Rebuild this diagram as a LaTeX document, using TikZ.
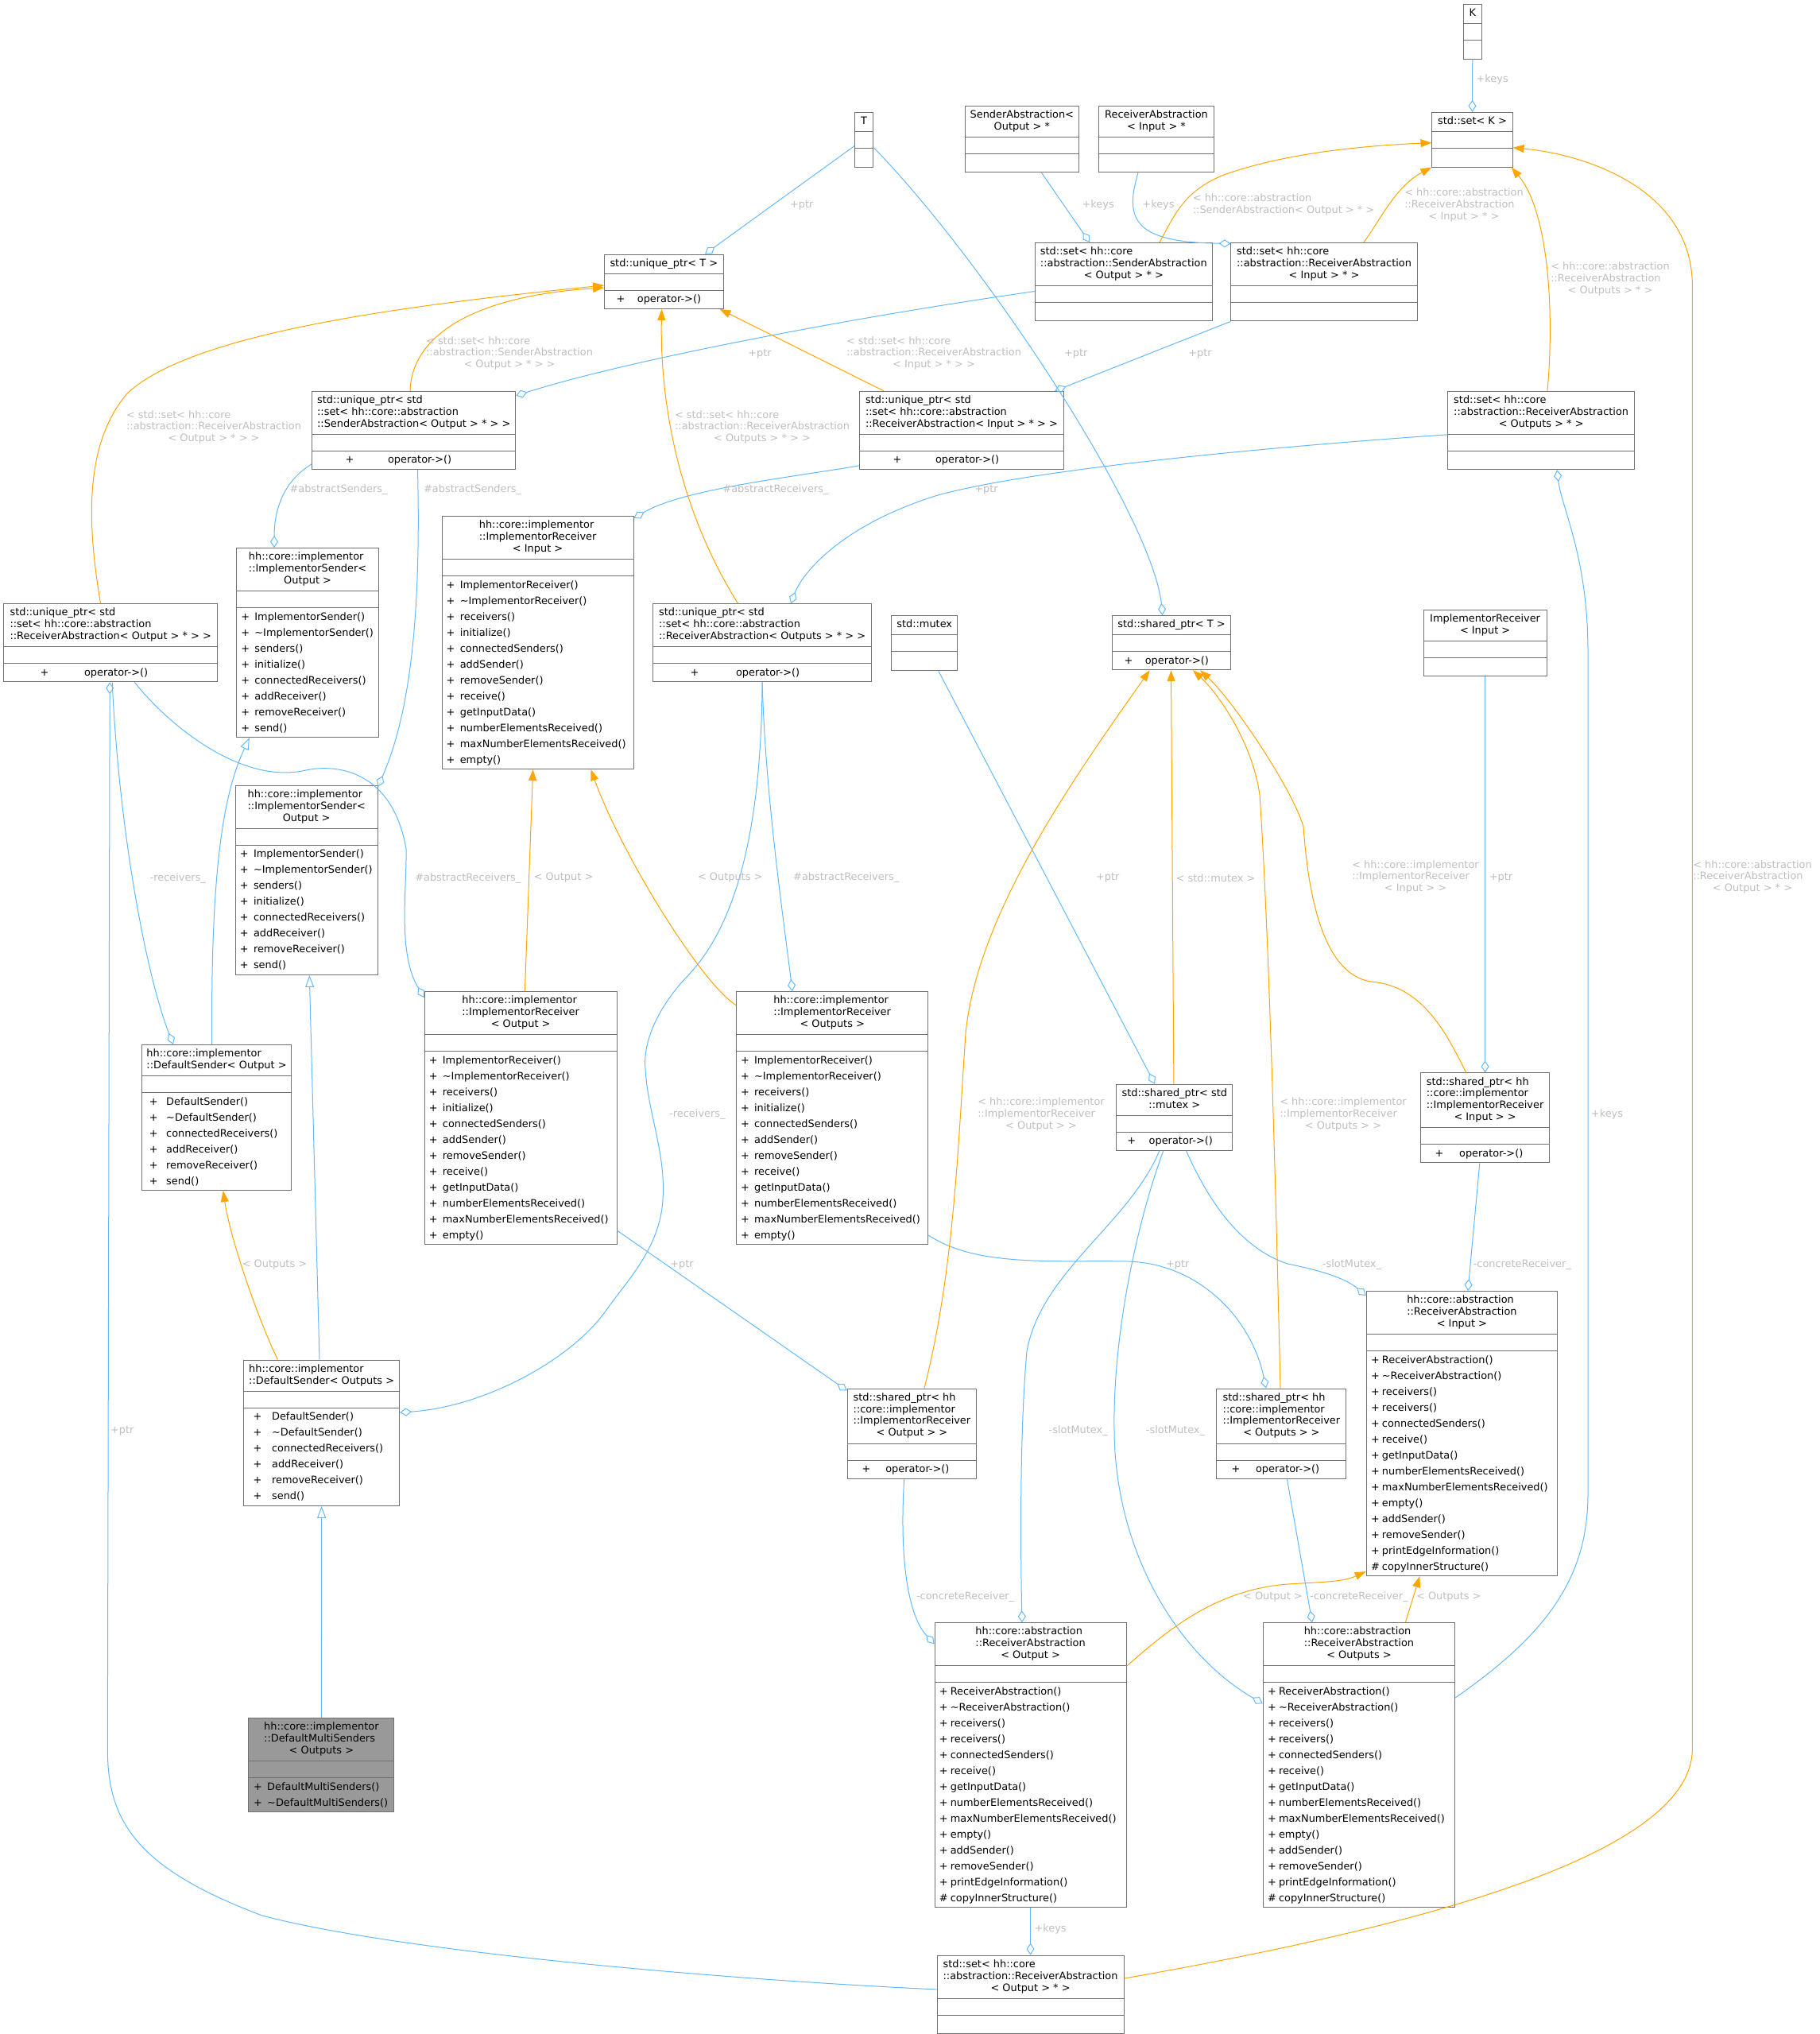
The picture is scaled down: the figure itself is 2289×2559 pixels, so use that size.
\documentclass[tikz,border=0pt]{standalone}
\usepackage{fontspec}
\setmainfont{DejaVu Sans}
\usepackage{tikz}
\usetikzlibrary{arrows.meta,shapes.multipart,calc}
\definecolor{edgeblue}{HTML}{63B8FF}
\definecolor{tmplorange}{HTML}{FFA500}
\definecolor{boxline}{HTML}{707070}
\definecolor{lblgrey}{HTML}{BEBEBE}
\definecolor{shadegray}{HTML}{999999}

% text blocks: lines left, last line centred
\newcommand\lns[2]{\begin{tabular}{@{}l@{}}#1\multicolumn{1}{@{}c@{}}{#2}\end{tabular}}
\newcommand\ttl[2]{\vbox{\kern3.2pt\hbox{\lns{#1}{#2}}\kern3.2pt}}
\newcommand\mth[3][1.5pt]{\hbox{\fontsize{12.9}{20}\selectfont\begin{tabular}{@{\hspace{#1}}l@{\hspace{#2}}l@{}}#3\end{tabular}}}
\newcommand\blankpart{\rule{0pt}{18pt}}
\newcommand\nomethods{\rule{0pt}{20.4pt}}

% member lists
\newcommand\isendrows{+&ImplementorSender()\\+&\textasciitilde ImplementorSender()\\+&senders()\\+&initialize()\\+&connectedReceivers()\\+&addReceiver()\\+&removeReceiver()\\+&send()}
\newcommand\irecvrows{+&ImplementorReceiver()\\+&\textasciitilde ImplementorReceiver()\\+&receivers()\\+&initialize()\\+&connectedSenders()\\+&addSender()\\+&removeSender()\\+&receive()\\+&getInputData()\\+&numberElementsReceived()\\+&maxNumberElementsReceived()\\+&empty()}
\newcommand\absrows{+&ReceiverAbstraction()\\+&\textasciitilde ReceiverAbstraction()\\+&receivers()\\+&receivers()\\+&connectedSenders()\\+&receive()\\+&getInputData()\\+&numberElementsReceived()\\+&maxNumberElementsReceived()\\+&empty()\\+&addSender()\\+&removeSender()\\+&printEdgeInformation()\\\#&copyInnerStructure()}
\newcommand\dsendrows{+&DefaultSender()\\+&\textasciitilde DefaultSender()\\+&connectedReceivers()\\+&addReceiver()\\+&removeReceiver()\\+&send()}

\begin{document}
\begin{tikzpicture}[x=1pt, y=-1pt,
    cls/.style={rectangle split, rectangle split parts=3, rectangle split part align={center,left,left},
      draw=boxline, line width=1pt, fill=white, inner xsep=4pt, inner ysep=1pt, anchor=north,
      font=\fontsize{12.9}{14.9}\selectfont},
    lbl/.style={text=lblgrey, inner sep=0pt, font=\fontsize{12.9}{14.8}\selectfont},
    agg/.style={draw=edgeblue, line width=1pt, -{Diamond[open,length=15pt,width=10pt]}},
    tmpl/.style={draw=tmplorange, line width=1pt, -{Triangle[length=14pt,width=10pt]}},
    inh/.style={draw=edgeblue, line width=1pt, -{Triangle[open,length=15pt,width=11pt]}}
]
    \useasboundingbox (0,0) rectangle (2289,2559);

    % Classes, top area
    \node[cls, minimum width=22.9] (K) at (1852.75,4.9) {\ttl{}{K}\nodepart{two}\blankpart\nodepart{three}\nomethods};
    \node[cls, minimum width=101.2] (setK) at (1852.5,140.8) {\ttl{}{std::set< K >}\nodepart{two}\blankpart\nodepart{three}\nomethods};
    \node[cls, minimum width=23.4] (T) at (1087.1,140.8) {\ttl{}{T}\nodepart{two}\blankpart\nodepart{three}\nomethods};
    \node[cls, minimum width=143.5] (sendAbsP) at (1285.85,132.7) {\ttl{SenderAbstraction<\\}{Output > *}\nodepart{two}\blankpart\nodepart{three}\nomethods};
    \node[cls, minimum width=145] (recvAbsInP) at (1455,132.7) {\ttl{ReceiverAbstraction\\}{< Input > *}\nodepart{two}\blankpart\nodepart{three}\nomethods};
    \node[cls, minimum width=149.4] (uptrT) at (835.3,319.6) {\ttl{}{std::unique\_ptr< T >}\nodepart{two}\blankpart\nodepart{three}\mth[11pt]{15.5pt}{+&operator->()}};
    \node[cls, minimum width=222.3] (setSendOut) at (1413.85,304.9) {\ttl{std::set< hh::core\\::abstraction::SenderAbstraction\\}{< Output > * >}\nodepart{two}\blankpart\nodepart{three}\nomethods};
    \node[cls, minimum width=234.1] (setRecvIn) at (1666,304.9) {\ttl{std::set< hh::core\\::abstraction::ReceiverAbstraction\\}{< Input > * >}\nodepart{two}\blankpart\nodepart{three}\nomethods};
    \node[cls, minimum width=256] (sendUP) at (520.7,491.8) {\ttl{std::unique\_ptr< std\\::set< hh::core::abstraction\\}{::SenderAbstraction< Output > * > >}\nodepart{two}\blankpart\nodepart{three}\mth[37.9pt]{42.6pt}{+&operator->()}};
    \node[cls, minimum width=257.5] (recvInUP) at (1209.95,491.8) {\ttl{std::unique\_ptr< std\\::set< hh::core::abstraction\\}{::ReceiverAbstraction< Input > * > >}\nodepart{two}\blankpart\nodepart{three}\mth[38.4pt]{42.6pt}{+&operator->()}};
    \node[cls, minimum width=234.5] (setRecvOuts) at (1939.15,491.8) {\ttl{std::set< hh::core\\::abstraction::ReceiverAbstraction\\}{< Outputs > * >}\nodepart{two}\blankpart\nodepart{three}\nomethods};

    % Classes, middle area
    \node[cls, minimum width=268.6] (recvOutUP) at (139.2,759.2) {\ttl{std::unique\_ptr< std\\::set< hh::core::abstraction\\}{::ReceiverAbstraction< Output > * > >}\nodepart{two}\blankpart\nodepart{three}\mth[41.7pt]{44.6pt}{+&operator->()}};
    \node[cls, minimum width=178.6] (implSendA) at (387.1,689) {\ttl{hh::core::implementor\\::ImplementorSender<\\}{Output >}\nodepart{two}\blankpart\nodepart{three}\mth{6.3pt}{\isendrows}};
    \node[cls, minimum width=240.8] (implRecvIn) at (676.6,649) {\ttl{hh::core::implementor\\::ImplementorReceiver\\}{< Input >}\nodepart{two}\blankpart\nodepart{three}\mth{6.3pt}{\irecvrows}};
    \node[cls, minimum width=178.6] (implSendB) at (385.7,987.8) {\ttl{hh::core::implementor\\::ImplementorSender<\\}{Output >}\nodepart{two}\blankpart\nodepart{three}\mth{6.3pt}{\isendrows}};
    \node[cls, minimum width=241.7] (implRecvOut) at (655.15,1247) {\ttl{hh::core::implementor\\::ImplementorReceiver\\}{< Output >}\nodepart{two}\blankpart\nodepart{three}\mth{6.3pt}{\irecvrows}};
    \node[cls, minimum width=275.4] (recvOutsUP) at (959.1,759.2) {\ttl{std::unique\_ptr< std\\::set< hh::core::abstraction\\}{::ReceiverAbstraction< Outputs > * > >}\nodepart{two}\blankpart\nodepart{three}\mth[43.2pt]{46.6pt}{+&operator->()}};
    \node[cls, minimum width=83.2] (mutex) at (1163.2,773.9) {\ttl{}{std::mutex}\nodepart{two}\blankpart\nodepart{three}\nomethods};
    \node[cls, minimum width=148.9] (sptrT) at (1473.95,773.9) {\ttl{}{std::shared\_ptr< T >}\nodepart{two}\blankpart\nodepart{three}\mth[11.1pt]{15.4pt}{+&operator->()}};
    \node[cls, minimum width=241.4] (implRecvOuts) at (1047.2,1247) {\ttl{hh::core::implementor\\::ImplementorReceiver\\}{< Outputs >}\nodepart{two}\blankpart\nodepart{three}\mth{6.3pt}{\irecvrows}};
    \node[cls, minimum width=154.8] (implRecv) at (1868.6,766.5) {\ttl{ImplementorReceiver\\}{< Input >}\nodepart{two}\blankpart\nodepart{three}\nomethods};

    % Classes, lower area
    \node[cls, minimum width=188.8] (defSendOut) at (272.5,1313.9) {\ttl{hh::core::implementor\\}{::DefaultSender< Output >}\nodepart{two}\blankpart\nodepart{three}\mth[5.7pt]{10.6pt}{\dsendrows}};
    \node[cls, minimum width=196.1] (defSendOuts) at (404.65,1710.6) {\ttl{hh::core::implementor\\}{::DefaultSender< Outputs >}\nodepart{two}\blankpart\nodepart{three}\mth[8.1pt]{12.6pt}{\dsendrows}};
    \node[cls, minimum width=162.5] (sptrRecvOut) at (1147.45,1746.5) {\ttl{std::shared\_ptr< hh\\::core::implementor\\::ImplementorReceiver\\}{< Output > >}\nodepart{two}\blankpart\nodepart{three}\mth[14.4pt]{18.9pt}{+&operator->()}};
    \node[cls, minimum width=146] (sptrMutex) at (1477.8,1363.7) {\ttl{std::shared\_ptr< std\\}{::mutex >}\nodepart{two}\blankpart\nodepart{three}\mth[9.6pt]{16.5pt}{+&operator->()}};
    \node[cls, minimum width=162.5] (sptrRecvIn) at (1868.55,1349.4) {\ttl{std::shared\_ptr< hh\\::core::implementor\\::ImplementorReceiver\\}{< Input > >}\nodepart{two}\blankpart\nodepart{three}\mth[14.3pt]{19.7pt}{+&operator->()}};
    \node[cls, minimum width=240.4] (recvAbsIn) at (1839.4,1624) {\ttl{hh::core::abstraction\\::ReceiverAbstraction\\}{< Input >}\nodepart{two}\blankpart\nodepart{three}\mth[1.8pt]{3.1pt}{\absrows}};
    \node[cls, minimum width=163] (sptrRecvOuts) at (1612.4,1746.5) {\ttl{std::shared\_ptr< hh\\::core::implementor\\::ImplementorReceiver\\}{< Outputs > >}\nodepart{two}\blankpart\nodepart{three}\mth[14.7pt]{19.6pt}{+&operator->()}};
    \node[cls, minimum width=183, fill=shadegray] (multi) at (404.4,2161.2) {\ttl{hh::core::implementor\\::DefaultMultiSenders\\}{< Outputs >}\nodepart{two}\blankpart\nodepart{three}\mth[2.3pt]{6.2pt}{+&DefaultMultiSenders()\\+&\textasciitilde DefaultMultiSenders()}};
    \node[cls, minimum width=240.9] (recvAbsOut) at (1296.55,2041.2) {\ttl{hh::core::abstraction\\::ReceiverAbstraction\\}{< Output >}\nodepart{two}\blankpart\nodepart{three}\mth[1.8pt]{3.1pt}{\absrows}};
    \node[cls, minimum width=235.1] (setRecvOut) at (1296.55,2459.6) {\ttl{std::set< hh::core\\::abstraction::ReceiverAbstraction\\}{< Output > * >}\nodepart{two}\blankpart\nodepart{three}\nomethods};
    \node[cls, minimum width=241.3] (recvAbsOuts) at (1709.95,2041.2) {\ttl{hh::core::abstraction\\::ReceiverAbstraction\\}{< Outputs >}\nodepart{two}\blankpart\nodepart{three}\mth[1.8pt]{3.1pt}{\absrows}};

    % Member links
    \draw[agg] (K.south) -- (setK.north) node[lbl] (keysK) at (1877.7,100.4) {+keys};
    \draw[agg] ($(T.north west)+(0,42.9)$) -- ($(uptrT.north)+(51.7,0)$) node[lbl] (ptrT1) at (1008.7,258.4) {+ptr};
    \draw[agg] ($(T.north east)+(0,44.9)$) .. controls (1240,330) and (1450,650) .. ($(sptrT.north)+(-11.15,0)$) node[lbl] (ptrT2) at (1353.8,444.9) {+ptr};
    \draw[agg] ($(sendAbsP.south)+(24.55,0)$) -- ($(setSendOut.north)+(-42.85,0)$) node[lbl] (keysSend) at (1381.7,258.4) {+keys};
    \draw[agg] ($(recvAbsInP.south)+(-23,0)$) .. controls (1415,275) and (1425,305) .. ($(setRecvIn.north west)+(0,1.5)$) node[lbl] (keysRecvIn) at (1457.5,258.4) {+keys};
    \draw[agg] ($(setSendOut.north west)+(0,61.6)$) .. controls (1100,395) and (800,450) .. ($(sendUP.north east)+(0,6)$) node[lbl] (ptrSendUP) at (956,444.9) {+ptr};
    \draw[agg] (setRecvIn.south west) -- ($(recvInUP.north east)+(-12,0)$) node[lbl] (ptrRecvInUP) at (1510,444.9) {+ptr};
    \draw[agg] ($(setRecvOuts.north west)+(0,55)$) .. controls (1600,562) and (1300,590) .. (1180,623) .. controls (1060,660) and (1010,720) .. ($(recvOutsUP.north)+(36,0)$) node[lbl] (ptrRecvOutsUP) at (1241,616.3) {+ptr};
    \draw[agg] ($(sendUP.south west)+(0,-7)$) .. controls (365,600) and (345,630) .. ($(implSendA.north)+(-42.1,0)$) node[lbl] (sendersA) at (426,616.3) {\#abstractSenders\_};
    \draw[agg] ($(sendUP.south)+(4.8,0)$) .. controls (530,780) and (515,900) .. ($(implSendB.north east)+(0,2)$) node[lbl] (sendersB) at (594.6,616.3) {\#abstractSenders\_};
    \draw[agg] ($(recvOutUP.south)+(2,0)$) .. controls (150,1050) and (185,1230) .. ($(defSendOut.north west)+(40.4,0)$) node[lbl] (rcvA) at (223.8,1105.3) {-receivers\_};
    \draw[agg] ($(setRecvOut.north west)+(0,43.3)$) .. controls (900,2490) and (500,2455) .. (330,2410) .. controls (170,2350) and (135.3,2290) .. (135.3,2200) -- ($(recvOutUP.south)+(-1,0)$) node[lbl] (ptrSet) at (153.8,1800.4) {+ptr};
    \draw[agg] ($(recvOutUP.south)+(30.1,0)$) .. controls (210,910) and (300,985) .. (380,970) .. controls (430,958) and (495,975) .. (511,1068) .. controls (512,1120) and (500,1200) .. ($(implRecvOut.north west)+(0,8)$) node[lbl] (abrA) at (588.8,1105) {\#abstractReceivers\_};
    \draw[agg] ($(recvInUP.south west)+(0,-5)$) .. controls (1000,600) and (860,615) .. ($(implRecvIn.north east)+(0,3)$) node[lbl] (abrIn) at (976,616.3) {\#abstractReceivers\_};
    \draw[agg] (recvOutsUP.south) .. controls (958,1000) and (940,1150) .. (865,1228) .. controls (840,1254) and (808,1300) .. (812,1345) .. controls (815,1400) and (838,1450) .. (834,1510) .. controls (830,1570) and (790,1610) .. (763,1648) .. controls (720,1710) and (610,1770) .. ($(defSendOuts.north east)+(0,66.4)$) node[lbl] (rcvB) at (877.4,1402.4) {-receivers\_};
    \draw[agg] (recvOutsUP.south) .. controls (963,1000) and (985,1150) .. ($(implRecvOuts.north)+(-50.2,0)$) node[lbl] (abrB) at (1064.7,1104.5) {\#abstractReceivers\_};
    \draw[agg] ($(mutex.south)+(17.3,0)$) -- ($(sptrMutex.north)+(-24.8,0)$) node[lbl] (ptrMutex) at (1393.7,1104.5) {+ptr};
    \draw[agg] (implRecv.south) -- (sptrRecvIn.north) node[lbl] (ptrRecv) at (1888.5,1104.5) {+ptr};
    \draw[agg] ($(recvAbsOuts.north east)+(0,94.8)$) .. controls (1940,2060) and (1998,1990) .. (1998,1880) -- (1998,820) .. controls (1998,700) and (1965,640) .. ($(setRecvOuts.south)+(20,0)$) node[lbl] (keysOuts) at (2022,1402) {+keys};
    \draw[agg] ($(sptrRecvIn.south)+(-6.75,0)$) -- ($(recvAbsIn.north)+(7.6,0)$) node[lbl] (concIn) at (1915.3,1591.4) {-concreteReceiver\_};
    \draw[agg] ($(sptrMutex.south)+(14.8,0)$) .. controls (1520,1510) and (1560,1570) .. (1620,1590) .. controls (1670,1600) and (1695,1610) .. ($(recvAbsIn.north west)+(0,6)$) node[lbl] (mtxIn) at (1701,1591.4) {-slotMutex\_};
    \draw[agg] ($(sptrMutex.south)+(-19,0)$) .. controls (1420,1540) and (1310,1600) .. (1292,1700) .. controls (1283,1800) and (1284,1950) .. ($(recvAbsOut.north)+(-10.55,0)$) node[lbl] (mtxOut) at (1356.7,1800.4) {-slotMutex\_};
    \draw[agg] ($(sptrMutex.south)+(-14.1,0)$) .. controls (1430,1540) and (1400,1680) .. (1402,1800) .. controls (1403,1950) and (1480,2080) .. ($(recvAbsOuts.north west)+(0,102)$) node[lbl] (mtxOuts) at (1479,1800.4) {-slotMutex\_};
    \draw[agg] ($(implRecvOut.south east)+(0,-18)$) -- ($(sptrRecvOut.north west)+(0,3)$) node[lbl] (ptrOut) at (858,1591.4) {+ptr};
    \draw[agg] ($(implRecvOuts.south east)+(0,-12)$) .. controls (1230,1595) and (1330,1585) .. (1420,1587) .. controls (1510,1590) and (1575,1660) .. ($(sptrRecvOuts.north)+(-19.4,0)$) node[lbl] (ptrOuts) at (1481.7,1591.4) {+ptr};
    \draw[agg] ($(sptrRecvOut.south)+(-9.75,0)$) .. controls (1132,1950) and (1140,2030) .. ($(recvAbsOut.north west)+(0,27)$) node[lbl] (concOut) at (1214.6,2008.6) {-concreteReceiver\_};
    \draw[agg] ($(sptrRecvOuts.south)+(7,0)$) -- ($(recvAbsOuts.north)+(-58.95,0)$) node[lbl] (concOuts) at (1710,2008.6) {-concreteReceiver\_};
    \draw[agg] (recvAbsOut.south) -- (setRecvOut.north) node[lbl] (keysOut) at (1321.6,2427) {+keys};

    % Template instances
    \draw[tmpl] ($(setSendOut.north)+(45.15,0)$) .. controls (1478,270) and (1490,240) .. (1540,220) .. controls (1610,195) and (1700,184) .. ($(setK.north west)+(0,38.8)$) node[lbl] (tSend) at (1615,257.7) {\lns{< hh::core::abstraction\\}{::SenderAbstraction< Output > * >}};
    \draw[tmpl] ($(setRecvIn.north)+(49.8,0)$) .. controls (1735,280) and (1755,235) .. (setK.south west) node[lbl] (tRecvIn) at (1842,258.4) {\lns{< hh::core::abstraction\\::ReceiverAbstraction\\}{< Input > * >}};
    \draw[tmpl] ($(setRecvOuts.north)+(7.85,0)$) .. controls (1956,390) and (1948,265) .. ($(setK.south east)+(-2,0)$) node[lbl] (tRecvOuts) at (2026,351.7) {\lns{< hh::core::abstraction\\::ReceiverAbstraction\\}{< Outputs > * >}};
    \draw[tmpl] ($(setRecvOut.north east)+(0,29.4)$) .. controls (1750,2430) and (2129.4,2340) .. (2129.4,2200) -- (2129.4,360) .. controls (2129.4,240) and (2000,195) .. ($(setK.north east)+(0,44.9)$) node[lbl] (tRecvOut) at (2205,1103.9) {\lns{< hh::core::abstraction\\::ReceiverAbstraction\\}{< Output > * >}};
    \draw[tmpl] ($(sendUP.north)+(-4.7,0)$) .. controls (518,420) and (600,372) .. ($(uptrT.north west)+(0,42.4)$) node[lbl] (tSendUP) at (641,444.9) {\lns{< std::set< hh::core\\::abstraction::SenderAbstraction\\}{< Output > * > >}};
    \draw[tmpl] ($(recvOutUP.north)+(-12.7,0)$) .. controls (110,660) and (105,560) .. (160,495) .. controls (240,420) and (500,385) .. ($(uptrT.north west)+(0,39.4)$) node[lbl] (tRecvOutUP) at (269,538) {\lns{< std::set< hh::core\\::abstraction::ReceiverAbstraction\\}{< Output > * > >}};
    \draw[tmpl] ($(recvInUP.north)+(-97.95,0)$) -- ($(uptrT.south east)+(-5,0)$) node[lbl] (tRecvInUP) at (1175,444.9) {\lns{< std::set< hh::core\\::abstraction::ReceiverAbstraction\\}{< Input > * > >}};
    \draw[tmpl] ($(recvOutsUP.north)+(-30.6,0)$) .. controls (860,650) and (830,520) .. ($(uptrT.south)+(-2.7,0)$) node[lbl] (tRecvOutsUP) at (959,538) {\lns{< std::set< hh::core\\::abstraction::ReceiverAbstraction\\}{< Outputs > * > >}};
    \draw[tmpl] ($(implRecvOut.north)+(5.25,0)$) -- ($(implRecvIn.south)+(-6,0)$) node[lbl] (tOut) at (709,1104.5) {< Output >};
    \draw[tmpl] ($(implRecvOuts.north west)+(0,17.5)$) .. controls (880,1235) and (780,1070) .. ($(implRecvIn.south east)+(-54,0)$) node[lbl] (tOuts) at (918.7,1104.5) {< Outputs >};
    \draw[tmpl] ($(sptrRecvOut.north)+(15.55,0)$) .. controls (1200,1600) and (1205,1450) .. (1215,1300) .. controls (1230,1150) and (1350,980) .. ($(sptrT.south)+(-27.25,0)$) node[lbl] (tSptrOut) at (1310,1402.6) {\lns{< hh::core::implementor\\::ImplementorReceiver\\}{< Output > >}};
    \draw[tmpl] ($(sptrMutex.north)+(-0.9,0)$) -- ($(sptrT.south)+(-0.45,0)$) node[lbl] (tMutex) at (1529.5,1104.5) {< std::mutex >};
    \draw[tmpl] ($(sptrRecvOuts.north)+(-1.4,0)$) .. controls (1603,1400) and (1595,1150) .. (1585,1000) .. controls (1575,930) and (1530,870) .. ($(sptrT.south)+(27,0)$) node[lbl] (tSptrOuts) at (1690,1402.6) {\lns{< hh::core::implementor\\::ImplementorReceiver\\}{< Outputs > >}};
    \draw[tmpl] ($(sptrRecvIn.north)+(-23.85,0)$) .. controls (1820,1300) and (1790,1240) .. (1725,1235) .. controls (1660,1225) and (1645,1110) .. (1640,1040) .. controls (1625,990) and (1550,880) .. ($(sptrT.south)+(36,0)$) node[lbl] (tSptrIn) at (1781,1103.9) {\lns{< hh::core::implementor\\::ImplementorReceiver\\}{< Input > >}};
    \draw[tmpl] ($(defSendOuts.north)+(-55.25,0)$) .. controls (325,1660) and (290,1560) .. ($(defSendOut.south)+(8.3,0)$) node[lbl] (tDef) at (345.5,1591.4) {< Outputs >};
    \draw[tmpl] ($(recvAbsOut.north east)+(0,55.1)$) .. controls (1470,2050) and (1530,2000) .. (1620,1993) .. controls (1670,1990) and (1690,1990) .. ($(recvAbsIn.south west)+(0,-6)$) node[lbl] (tAbsOut) at (1601.4,2008.6) {< Output >};
    \draw[tmpl] ($(recvAbsOuts.north)+(58.35,0)$) -- ($(recvAbsIn.south)+(-53.1,0)$) node[lbl] (tAbsOuts) at (1822.8,2008.6) {< Outputs >};

    % Inheritance
    \draw[inh] ($(defSendOut.north)+(-5.8,0)$) .. controls (265,1100) and (280,1000) .. ($(implSendA.south)+(-73.1,0)$);
    \draw[inh] ($(defSendOuts.north)+(-2.65,0)$) -- ($(implSendB.south)+(3.6,0)$);
    \draw[inh] (multi.north) -- (defSendOuts.south);
\end{tikzpicture}
\end{document}
